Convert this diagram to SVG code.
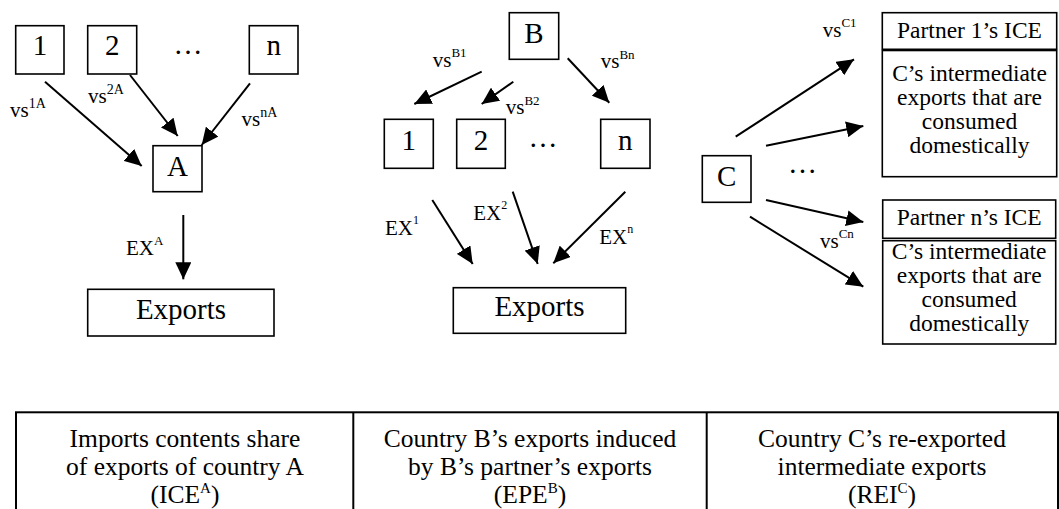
<svg xmlns="http://www.w3.org/2000/svg" width="1059" height="509" viewBox="0 0 1059 509" font-family="'Liberation Serif', 'Times New Roman', serif">
<style>
  .box { fill: #fff; stroke: #000; stroke-width: 1.6; }
  .lbl { font-family: "Liberation Serif", "Times New Roman", serif; font-size: 29px; fill: #000; text-anchor: middle; }
  .edge { font-family: "Liberation Serif", "Times New Roman", serif; font-size: 21px; fill: #000; }
  .txt { font-family: "Liberation Serif", "Times New Roman", serif; font-size: 23.5px; fill: #000; text-anchor: middle; }
  .tbl { font-family: "Liberation Serif", "Times New Roman", serif; font-size: 25.5px; fill: #000; text-anchor: middle; }
  .arr { stroke: #000; stroke-width: 2; fill: none; marker-end: url(#ah); }
  .tline { stroke: #000; stroke-width: 2; fill: none; }
</style>
<defs>
  <marker id="ah" markerUnits="userSpaceOnUse" markerWidth="18" markerHeight="16" refX="17" refY="8" orient="auto">
    <path d="M0,0 L17,8 L0,16 Z" fill="#000"/>
  </marker>
</defs>
<rect width="1059" height="509" fill="#fff"/>

<!-- Connectors -->
<g id="connectors">
  <line class="arr" x1="45" y1="81.7" x2="141.7" y2="166"/>
  <line class="arr" x1="130" y1="75" x2="177.7" y2="136"/>
  <line class="arr" x1="250" y1="83.3" x2="201.7" y2="145"/>
  <line class="arr" x1="183.3" y1="215" x2="183.3" y2="279.3"/>
  <line class="arr" x1="481.7" y1="71.7" x2="414.3" y2="104"/>
  <line class="arr" x1="513.3" y1="81.7" x2="481.7" y2="104"/>
  <line class="arr" x1="567.7" y1="58.3" x2="609.3" y2="102.7"/>
  <line class="arr" x1="432.3" y1="200" x2="472.7" y2="264"/>
  <line class="arr" x1="512.7" y1="191.7" x2="537.7" y2="264"/>
  <line class="arr" x1="625.3" y1="191.7" x2="553.3" y2="263.3"/>
  <line class="arr" x1="735.7" y1="136.7" x2="854" y2="59.3"/>
  <line class="arr" x1="766" y1="145.7" x2="863.3" y2="126"/>
  <line class="arr" x1="766" y1="200" x2="863.3" y2="222"/>
  <line class="arr" x1="750" y1="216.7" x2="863.3" y2="286.7"/>
  <text class="edge" x="10" y="117">vs<tspan font-size="14" dy="-9">1A</tspan></text>
  <text class="edge" x="88" y="103">vs<tspan font-size="14" dy="-9">2A</tspan></text>
  <text class="edge" x="241.5" y="126">vs<tspan font-size="14" dy="-9">nA</tspan></text>
  <text class="edge" x="126" y="255" font-size="22">EX<tspan font-size="13" dy="-10">A</tspan></text>
  <text class="edge" x="432.7" y="66.7">vs<tspan font-size="13" dy="-9.5">B1</tspan></text>
  <text class="edge" x="505.7" y="114.3">vs<tspan font-size="13" dy="-9.5">B2</tspan></text>
  <text class="edge" x="600.7" y="68.3">vs<tspan font-size="13" dy="-9.5">Bn</tspan></text>
  <text class="edge" x="385" y="235" font-size="22">EX<tspan font-size="12" dy="-11">1</tspan></text>
  <text class="edge" x="473.3" y="220" font-size="22">EX<tspan font-size="12" dy="-11">2</tspan></text>
  <text class="edge" x="599.3" y="244" font-size="22">EX<tspan font-size="12" dy="-11">n</tspan></text>
  <text class="edge" x="822.7" y="36.7">vs<tspan font-size="13" dy="-10">C1</tspan></text>
  <text class="edge" x="820" y="248.3">vs<tspan font-size="13" dy="-10">Cn</tspan></text>
</g>

<!-- Panel A -->
<g id="a-src-1"><rect class="box" x="15.7" y="25.7" width="48.3" height="48.3"/><text class="lbl" x="39.9" y="55">1</text></g>
<g id="a-src-2"><rect class="box" x="87.7" y="25.7" width="49" height="48.3"/><text class="lbl" x="112.2" y="55">2</text></g>
<g id="a-dots"><text class="lbl" x="188" y="54">…</text></g>
<g id="a-src-n"><rect class="box" x="249.3" y="25.7" width="48.7" height="48.3"/><text class="lbl" x="273.7" y="55">n</text></g>
<g id="a-country"><rect class="box" x="153" y="145.7" width="49" height="46"/><text class="lbl" x="177.5" y="176">A</text></g>
<g id="a-exports"><rect class="box" x="87.7" y="289.3" width="186.3" height="46.7"/><text class="lbl" x="181" y="319">Exports</text></g>

<!-- Panel B -->
<g id="b-country"><rect class="box" x="509.3" y="12.7" width="49.4" height="46.6"/><text class="lbl" x="534" y="43">B</text></g>
<g id="b-dst-1"><rect class="box" x="384.3" y="119.3" width="49" height="49"/><text class="lbl" x="408.8" y="150">1</text></g>
<g id="b-dst-2"><rect class="box" x="456.7" y="119.3" width="48.6" height="49"/><text class="lbl" x="481" y="150">2</text></g>
<g id="b-dots"><text class="lbl" x="543" y="147">…</text></g>
<g id="b-dst-n"><rect class="box" x="600.7" y="119.3" width="49.3" height="49"/><text class="lbl" x="625.3" y="150">n</text></g>
<g id="b-exports"><rect class="box" x="453.3" y="287.7" width="172.4" height="45.6"/><text class="lbl" x="539.5" y="316">Exports</text></g>

<!-- Panel C -->
<g id="c-country"><rect class="box" x="702.3" y="155.7" width="48.7" height="46.6"/><text class="lbl" x="726.7" y="186">C</text></g>
<g id="c-dots"><text class="lbl" x="802.5" y="173">…</text></g>
<g id="c-partner-1">
  <rect class="box" x="882.3" y="12.7" width="174.4" height="36.6"/>
  <text class="txt" x="969.5" y="38">Partner 1’s ICE</text>
  <rect class="box" x="882.3" y="50.5" width="174.4" height="126.2"/>
  <text class="txt" x="969.5" y="81">C’s intermediate</text>
  <text class="txt" x="969.5" y="105">exports that are</text>
  <text class="txt" x="969.5" y="129">consumed</text>
  <text class="txt" x="969.5" y="153">domestically</text>
</g>
<g id="c-partner-n">
  <rect class="box" x="882.7" y="200" width="173" height="38.3"/>
  <text class="txt" x="969.2" y="225">Partner n’s ICE</text>
  <rect class="box" x="882.7" y="240.7" width="173" height="103.3"/>
  <text class="txt" x="969.2" y="259">C’s intermediate</text>
  <text class="txt" x="969.2" y="283">exports that are</text>
  <text class="txt" x="969.2" y="307">consumed</text>
  <text class="txt" x="969.2" y="331">domestically</text>
</g>

<!-- Table -->
<g id="legend-table">
  <rect class="tline" x="16" y="412.3" width="1042" height="110"/>
  <line class="tline" x1="353.3" y1="412.3" x2="353.3" y2="522"/>
  <line class="tline" x1="706.7" y1="412.3" x2="706.7" y2="522"/>
  <text class="tbl" x="185" y="447">Imports contents share</text>
  <text class="tbl" x="185" y="475">of exports of country A</text>
  <text class="tbl" x="185" y="503">(ICE<tspan font-size="15" dy="-10">A</tspan><tspan dy="10">)</tspan></text>
  <text class="tbl" x="530" y="447">Country B’s exports induced</text>
  <text class="tbl" x="530" y="475">by B’s partner’s exports</text>
  <text class="tbl" x="530" y="503">(EPE<tspan font-size="15" dy="-10">B</tspan><tspan dy="10">)</tspan></text>
  <text class="tbl" x="882" y="447">Country C’s re-exported</text>
  <text class="tbl" x="882" y="475">intermediate exports</text>
  <text class="tbl" x="882" y="503">(REI<tspan font-size="15" dy="-10">C</tspan><tspan dy="10">)</tspan></text>
</g>
</svg>
